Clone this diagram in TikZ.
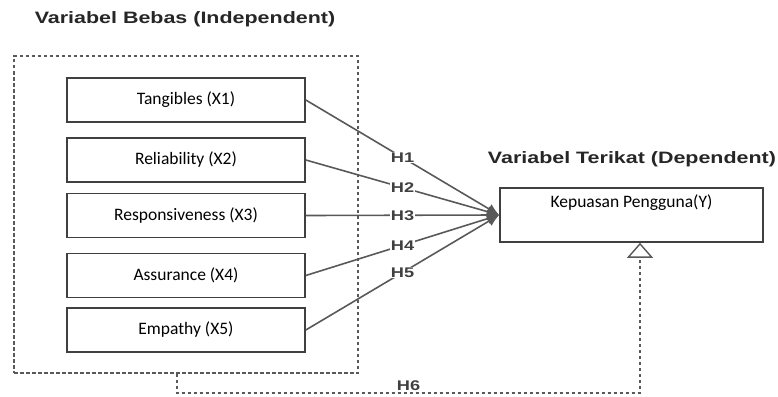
\documentclass[tikz,border=0pt]{standalone}
\usepackage{fontspec}
\setmainfont{Carlito}
\newfontfamily\judulfont[FakeStretch=1.3]{Liberation Sans}
\usetikzlibrary{arrows.meta}
\tikzset{
  judul/.style={font=\judulfont\bfseries\fontsize{16.5}{19}\selectfont, text=black!85},
  varbox/.style={draw=black!75, line width=1.6pt, minimum width=238pt, minimum height=44pt,
    inner sep=0pt, font=\fontsize{17.5}{20}\selectfont},
  groupbox/.style={draw=black!65, line width=1.3pt, dash pattern=on 3.5pt off 2.5pt},
  hlink/.style={draw=black!65, line width=1.6pt, -{Latex[length=12pt,width=11pt]}},
  hlabel/.style={fill=white, inner sep=1pt, font=\judulfont\bfseries\fontsize{14}{16}\selectfont, text=black!75},
  h6link/.style={draw=black!65, line width=1.3pt, dash pattern=on 3.5pt off 2.5pt,
    -{Triangle[open, length=15pt, width=26pt, fill=white, line width=1.4pt]}},
}

\begin{document}
\begin{tikzpicture}[x=1pt, y=-1pt]
  \useasboundingbox (0,0) rectangle (778,396);

  % judul kelompok
  \node [judul] (judul-bebas) at (185,19) {Variabel Bebas (Independent)};
  \node [judul] (judul-terikat) at (632,159) {Variabel Terikat (Dependent)};

  % variabel bebas
  \node [groupbox, minimum width=344pt, minimum height=317pt] (bebas) at (186,214.5) {};
  \node [varbox] (x1) at (186,100) {Tangibles (X1)};
  \node [varbox] (x2) at (186,160) {Reliability (X2)};
  \node [varbox] (x3) at (186,215.5) {Responsiveness (X3)};
  \node [varbox] (x4) at (186,275.5) {Assurance (X4)};
  \node [varbox] (x5) at (186,330) {Empathy (X5)};

  % variabel terikat
  \node [draw=black!75, line width=1.6pt, minimum width=263pt, minimum height=54pt] (y) at (631.5,215) {};
  \node [font=\fontsize{17.5}{20}\selectfont] (y-teks) at (631.5,203) {Kepuasan Pengguna(Y)};

  % hipotesis H1--H5
  \foreach \i in {1,...,5}
    \draw [hlink] (x\i.east) -- node [hlabel] {H\i} (y.west);

  % hipotesis H6
  \coordinate (h6-kiri) at (177,393);
  \coordinate (h6-kanan) at (640,393);
  \draw [h6link] (bebas.south -| h6-kiri) -- (h6-kiri)
    -- node [hlabel, above=1pt, fill=none] {H6} (h6-kanan) -- (y.south -| h6-kanan);
\end{tikzpicture}
\end{document}
